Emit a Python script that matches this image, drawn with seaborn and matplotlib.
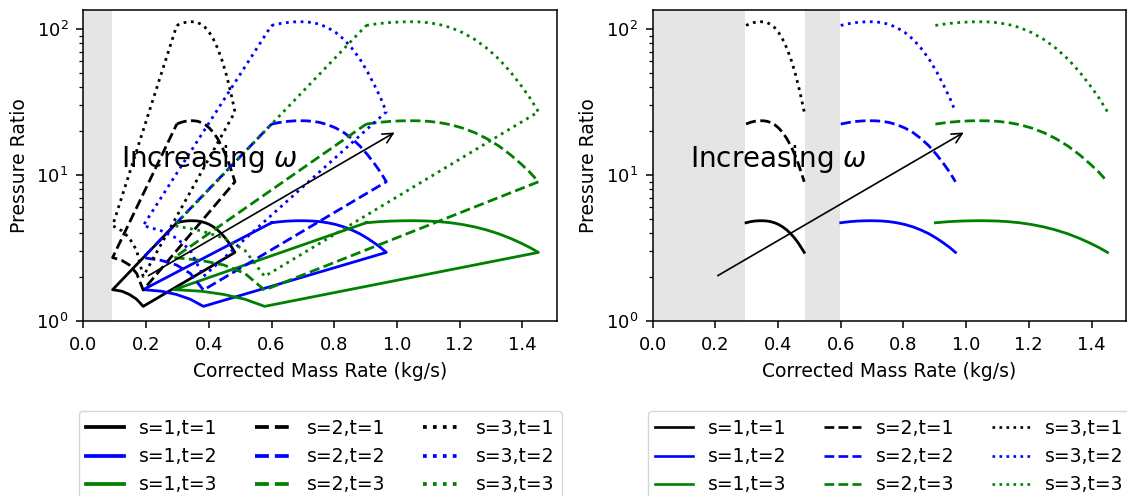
import matplotlib
matplotlib.use('Agg')
import matplotlib.pyplot as plt
from matplotlib.lines import Line2D
import seaborn as sns

# ---------------- data ----------------
S_VALUES = [1, 2, 3]
T_VALUES = [1, 2, 3]

# top (operating-limit) arcs: x grid per t, pressure ratio per s
ARC_X_T1 = [0.298, 0.311, 0.324, 0.335, 0.344, 0.354, 0.365, 0.376, 0.389,
            0.402, 0.415, 0.428, 0.441, 0.454, 0.465, 0.474, 0.4835]
ARC_X_T2 = [0.600, 0.626, 0.651, 0.673, 0.692, 0.710, 0.732, 0.754, 0.779,
            0.805, 0.831, 0.856, 0.882, 0.907, 0.929, 0.948, 0.966]
ARC_X_T3 = [0.902, 0.940, 0.979, 1.012, 1.039, 1.067, 1.100, 1.133, 1.171,
            1.209, 1.248, 1.286, 1.325, 1.363, 1.396, 1.424, 1.451]
ARC_Y_S1 = [4.71, 4.785, 4.835, 4.857, 4.864, 4.86, 4.84, 4.795, 4.709,
            4.581, 4.41, 4.201, 3.954, 3.673, 3.412, 3.184, 2.951]
ARC_Y_S2 = [22.34, 22.92, 23.31, 23.50, 23.55, 23.52, 23.33, 22.91, 22.13,
            20.98, 19.51, 17.77, 15.79, 13.70, 11.89, 10.42, 8.99]
ARC_Y_S3 = [105.9, 108.9, 110.9, 111.9, 112.2, 112.0, 110.6, 107.7, 102.3,
            94.6, 84.9, 74.0, 62.2, 50.5, 40.9, 33.7, 27.1]

# lower boundary (bottom corner -> left corner) per t / per s
LOW_X_T1 = [0.191, 0.170, 0.147, 0.123, 0.0935]
LOW_X_T2 = [0.383, 0.341, 0.297, 0.249, 0.191]
LOW_X_T3 = [0.578, 0.515, 0.448, 0.376, 0.290]
LOW_Y_S1 = [1.26, 1.41, 1.52, 1.60, 1.64]
LOW_Y_S2 = [1.63, 2.12, 2.42, 2.60, 2.72]
LOW_Y_S3 = [2.02, 3.05, 3.70, 4.15, 4.50]

ARC_X = {1: ARC_X_T1, 2: ARC_X_T2, 3: ARC_X_T3}
ARC_Y = {1: ARC_Y_S1, 2: ARC_Y_S2, 3: ARC_Y_S3}
LOW_X = {1: LOW_X_T1, 2: LOW_X_T2, 3: LOW_X_T3}
LOW_Y = {1: LOW_Y_S1, 2: LOW_Y_S2, 3: LOW_Y_S3}

# grey (infeasible) bands
LEFT_SPANS = [(0.0, 0.0915)]
RIGHT_SPANS = [(0.0, 0.296), (0.486, 0.598)]

ARROW_FROM = (0.2, 2.0)
ARROW_TO = (1.0, 20.0)
TEXT_POS = (0.12, 11.4)
TEXT = r'Increasing $\omega$'

# ---------------- styles ----------------
T_COLORS = {1: 'black', 2: 'blue', 3: 'green'}
S_STYLES = {1: '-', 2: '--', 3: ':'}

plt.rcParams['axes.linewidth'] = 1.1

fig = plt.figure(figsize=(11.27, 4.96), dpi=100)
ax1 = fig.add_axes([0.0739, 0.3528, 0.4203, 0.627])
ax2 = fig.add_axes([0.5791, 0.3528, 0.4200, 0.627])

for ax, spans in ((ax1, LEFT_SPANS), (ax2, RIGHT_SPANS)):
    for a, b in spans:
        ax.axvspan(a, b, color='gray', alpha=0.2, lw=0, zorder=0)

for s in S_VALUES:
    for t in T_VALUES:
        xs = ARC_X[t] + LOW_X[t] + [ARC_X[t][0]]
        ys = ARC_Y[s] + LOW_Y[s] + [ARC_Y[s][0]]
        sns.lineplot(x=xs, y=ys, sort=False, estimator=None, ax=ax1,
                     color=T_COLORS[t], linestyle=S_STYLES[s], lw=2)
        sns.lineplot(x=ARC_X[t], y=ARC_Y[s], sort=False, estimator=None, ax=ax2,
                     color=T_COLORS[t], linestyle=S_STYLES[s], lw=2)

for ax, hlw in ((ax1, 2.7), (ax2, 1.9)):
    ax.set_yscale('log')
    ax.set_xlim(0, 1.51)
    ax.set_ylim(1, 135)
    ax.set_xlabel('Corrected Mass Rate (kg/s)', fontsize=13.5, labelpad=5.5)
    ax.set_ylabel('Pressure Ratio', fontsize=13.5, labelpad=5.5)
    ax.tick_params(axis='both', which='major', labelsize=13, length=4.7,
                   width=1.1, pad=6)
    ax.tick_params(axis='both', which='minor', length=2.7, width=0.9)
    ax.annotate('', xy=ARROW_TO, xytext=ARROW_FROM,
                arrowprops=dict(arrowstyle='->', color='black', lw=1.2,
                                mutation_scale=18))
    ax.text(TEXT_POS[0], TEXT_POS[1], TEXT, fontsize=20, va='baseline', ha='left')
    handles, labels = [], []
    for s in S_VALUES:
        for t in T_VALUES:
            handles.append(Line2D([0], [0], color=T_COLORS[t],
                                  linestyle=S_STYLES[s], lw=hlw))
            labels.append(f's={s},t={t}')
    ax.legend(handles, labels, ncol=3, loc='upper center',
              bbox_to_anchor=(0.5, -0.26), fontsize=13.5)

fig.savefig('out.png', dpi=100)
